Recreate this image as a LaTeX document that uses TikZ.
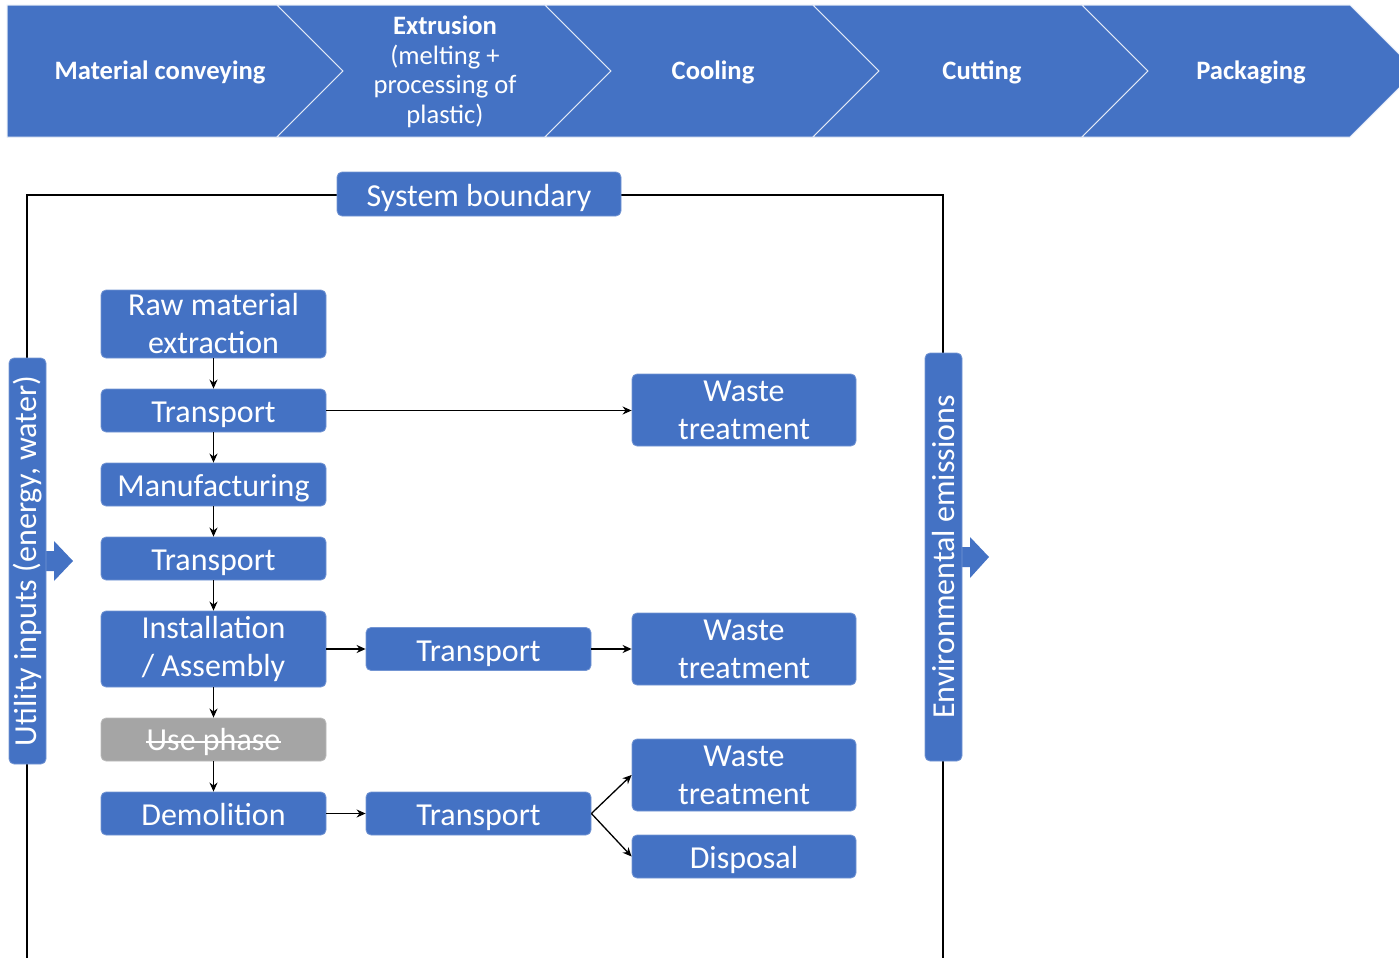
\documentclass[tikz,border=0pt]{standalone}
\usepackage{fontspec}
\setmainfont{Carlito}
\usetikzlibrary{arrows.meta}
\definecolor{obl}{HTML}{4472C4}
\definecolor{ugrey}{HTML}{A5A5A5}
\begin{document}
\begin{tikzpicture}[x=0.5pt,y=-0.5pt,
  box/.style={draw=obl!75!white, line width=0.4pt, fill=obl, rounded corners=2.5pt, text=white,
    minimum width=112.5pt, align=center, inner sep=0pt, font=\fontsize{16}{19}\selectfont},
  oneline/.style={box, minimum height=21.5pt, text height=15pt, text depth=2.8pt},
  twoline/.style={box},
  conn/.style={-{Stealth[length=4.5pt,width=4pt]}, line width=0.65pt},
  chev/.style={fill=obl, draw=white!85!obl, line width=0.5pt},
  chevtxt/.style={text=white, align=center, inner sep=0pt, font=\fontsize{13.3}{14.8}\selectfont},
  chevbold/.style={chevtxt, font=\fontsize{13.3}{14.8}\selectfont\bfseries},
  sidebar/.style={box, rotate=90, minimum height=18.5pt}]
\useasboundingbox (0,0) rectangle (1399,958);
\clip (0,0) rectangle (1399,958);
% top chevron bar
\path[chev] (7,5) -- (277,5) -- (343,71) -- (277,137) -- (7,137) -- cycle;
\path[chev] (277,5) -- (545,5) -- (611,71) -- (545,137) -- (277,137) -- (343,71) -- cycle;
\path[chev] (545,5) -- (813,5) -- (879,71) -- (813,137) -- (545,137) -- (611,71) -- cycle;
\path[chev] (813,5) -- (1082,5) -- (1148,71) -- (1082,137) -- (813,137) -- (879,71) -- cycle;
\path[chev] (1082,5) -- (1350,5) -- (1416,71) -- (1350,137) -- (1082,137) -- (1148,71) -- cycle;
\node[chevbold] (c1) at (160,72) {Material conveying};
\node[chevtxt] (c2) at (445,72) {\textbf{Extrusion}\\(melting +\\processing of\\plastic)};
\node[chevbold] (c3) at (713,72) {Cooling};
\node[chevbold] (c4) at (982,72) {Cutting};
\node[chevbold] (c5) at (1251,72) {Packaging};
% system boundary
\draw[line width=0.6pt] (27,958) -- (27,195) -- (943,195) -- (943,958);
\node[oneline, minimum width=142pt, minimum height=22pt] (sb) at (479,194) {System boundary};
% side bars
\fill[obl] (44,551) -- (54,551) -- (54,541) -- (73,561) -- (54,581) -- (54,571) -- (44,571) -- cycle;
\node[sidebar, minimum width=203pt] (ui) at (27.5,561) {Utility inputs (energy, water)};
\fill[obl] (960,547) -- (970,547) -- (970,537) -- (989,557) -- (970,578) -- (970,567) -- (960,567) -- cycle;
\node[sidebar, minimum width=204pt] (ee) at (943.5,557) {Environmental emissions};
% left column
\node[twoline, minimum height=34pt] (raw) at (213.5,324) {Raw material\\extraction};
\node[oneline] (t1) at (213.5,410.5) {Transport};
\node[oneline] (manu) at (213.5,484.5) {Manufacturing};
\node[oneline] (t2) at (213.5,558.5) {Transport};
\node[twoline, minimum height=38pt] (inst) at (213.5,649) {Installation\\/ Assembly};
\node[box, fill=ugrey, draw=ugrey!75!white, minimum height=21.5pt] (use) at (213.5,739.5) {};
\node[text=white, inner sep=0pt, font=\fontsize{16}{19}\selectfont] (uset) at ([yshift=-1pt]use.center) {Use phase};
\draw[white, line width=0.7pt] ([yshift=4pt]uset.base west) -- ([yshift=4pt]uset.base east);
\node[oneline] (demo) at (213.5,813.5) {Demolition};
% middle column
\node[oneline] (t3) at (478.5,649) {Transport};
\node[oneline] (t4) at (478.5,813.5) {Transport};
% right column
\node[twoline, minimum width=112pt, minimum height=36pt] (w1) at (744,410) {Waste\\treatment};
\node[twoline, minimum width=112pt, minimum height=36pt] (w2) at (744,649) {Waste\\treatment};
\node[twoline, minimum width=112pt, minimum height=36pt] (w3) at (744,775) {Waste\\treatment};
\node[oneline, minimum width=112pt] (disp) at (744,856.5) {Disposal};
% connectors
\draw[conn] (raw) -- (t1);
\draw[conn] (t1) -- (manu);
\draw[conn] (manu) -- (t2);
\draw[conn] (t2) -- (inst);
\draw[conn] (inst) -- (use);
\draw[conn] (use) -- (demo);
\draw[conn] (t1.east) -- (t1.east -| w1.west);
\draw[conn] (inst.east) -- (inst.east -| t3.west);
\draw[conn] (t3.east) -- (t3.east -| w2.west);
\draw[conn] (demo.east) -- (demo.east -| t4.west);
\draw[conn] (t4.east) -- (w3.west);
\draw[conn] (t4.east) -- (disp.west);
\end{tikzpicture}
\end{document}
